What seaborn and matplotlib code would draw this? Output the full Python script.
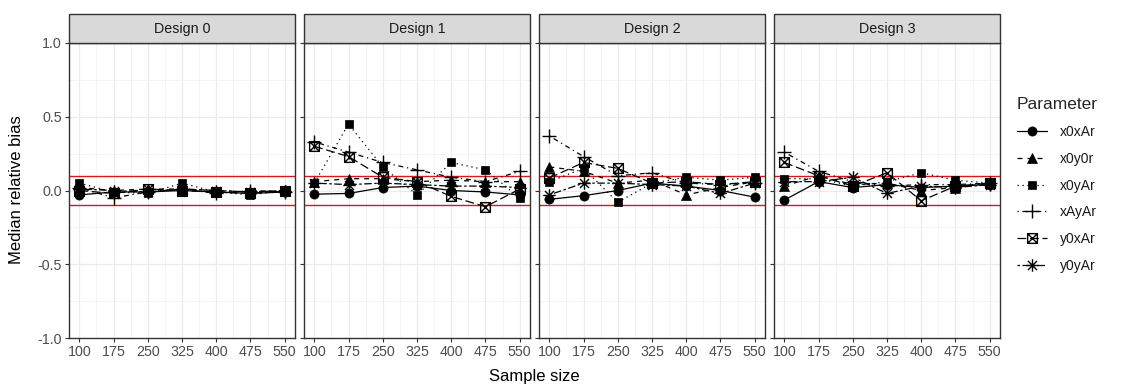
import matplotlib
matplotlib.use("Agg")
import matplotlib.pyplot as plt
from matplotlib.path import Path
from matplotlib.lines import Line2D
from matplotlib.patches import Rectangle
import numpy as np
import pandas as pd
import seaborn as sns

sample_sizes = [100, 175, 250, 325, 400, 475, 550]
parameters = ["x0xAr", "x0y0r", "x0yAr", "xAyAr", "y0xAr", "y0yAr"]
designs = ["Design 0", "Design 1", "Design 2", "Design 3"]

design0 = {
    "x0xAr": [-0.03, -0.01, -0.01, 0.00, -0.01, -0.02, -0.01],
    "x0y0r": [0.02, 0.00, 0.01, 0.01, 0.00, -0.01, 0.00],
    "x0yAr": [0.05, -0.01, -0.02, 0.05, -0.01, -0.03, 0.00],
    "xAyAr": [0.02, -0.05, -0.01, 0.01, -0.02, 0.00, -0.01],
    "y0xAr": [0.00, -0.02, 0.01, 0.00, -0.01, -0.02, 0.00],
    "y0yAr": [0.01, 0.00, -0.01, 0.01, 0.00, -0.01, 0.00],
}
design1 = {
    "x0xAr": [-0.025, -0.02, 0.02, 0.03, 0.00, -0.01, -0.03],
    "x0y0r": [0.06, 0.08, 0.08, 0.06, 0.07, 0.06, 0.06],
    "x0yAr": [0.05, 0.45, 0.16, -0.03, 0.19, 0.14, -0.05],
    "xAyAr": [0.33, 0.26, 0.19, 0.14, 0.09, 0.06, 0.13],
    "y0xAr": [0.30, 0.23, 0.09, 0.06, -0.04, -0.11, 0.01],
    "y0yAr": [0.05, 0.04, 0.05, 0.04, 0.03, 0.03, 0.02],
}
design2 = {
    "x0xAr": [-0.06, -0.035, 0.00, 0.05, 0.03, 0.00, -0.045],
    "x0y0r": [0.16, 0.13, 0.05, 0.07, -0.03, 0.02, 0.06],
    "x0yAr": [0.06, 0.15, -0.08, 0.05, 0.09, 0.07, 0.09],
    "xAyAr": [0.37, 0.23, 0.10, 0.12, 0.05, 0.04, 0.05],
    "y0xAr": [0.085, 0.19, 0.15, 0.05, 0.06, 0.04, 0.06],
    "y0yAr": [-0.03, 0.05, 0.05, 0.04, 0.03, -0.02, 0.05],
}
design3 = {
    "x0xAr": [-0.065, 0.06, 0.02, 0.04, 0.02, 0.03, 0.04],
    "x0y0r": [0.03, 0.10, 0.04, 0.05, 0.00, 0.02, 0.05],
    "x0yAr": [0.08, 0.08, 0.03, 0.06, 0.12, 0.07, 0.05],
    "xAyAr": [0.26, 0.13, 0.06, 0.03, 0.04, 0.04, 0.05],
    "y0xAr": [0.19, 0.10, 0.03, 0.12, -0.07, 0.03, 0.05],
    "y0yAr": [0.06, 0.06, 0.09, -0.02, 0.03, 0.02, 0.04],
}
design_values = [design0, design1, design2, design3]

rows = []
for dname, dvals in zip(designs, design_values):
    for p in parameters:
        for s, v in zip(sample_sizes, dvals[p]):
            rows.append({"Design": dname, "Parameter": p, "Sample size": s, "bias": v})
df = pd.DataFrame(rows)

sns.set_theme(style="white")
plt.rcParams["font.family"] = ["Liberation Sans", "DejaVu Sans"]
plt.rcParams["axes.unicode_minus"] = False

# custom markers
box_x = Path(
    [(-1, -1), (1, -1), (1, 1), (-1, 1), (-1, -1), (-1, -1), (1, 1), (-1, 1), (1, -1)],
    [Path.MOVETO, Path.LINETO, Path.LINETO, Path.LINETO, Path.LINETO,
     Path.MOVETO, Path.LINETO, Path.MOVETO, Path.LINETO],
)
a = 0.72
aster = Path(
    [(0, -1), (0, 1), (-1, 0), (1, 0), (-a, -a), (a, a), (-a, a), (a, -a)],
    [Path.MOVETO, Path.LINETO, Path.MOVETO, Path.LINETO,
     Path.MOVETO, Path.LINETO, Path.MOVETO, Path.LINETO],
)

styles = {
    "x0xAr": dict(marker="o", ms=6.6, ls="-", dashes=None, mfc="black"),
    "x0y0r": dict(marker="^", ms=7.0, ls="--", dashes=(4, 4), mfc="black"),
    "x0yAr": dict(marker="s", ms=6.2, ls=":", dashes=(1, 3), mfc="black"),
    "xAyAr": dict(marker="+", ms=10, ls="-.", dashes=(1, 3, 4, 3), mfc="black"),
    "y0xAr": dict(marker=box_x, ms=7.0, ls="--", dashes=(7, 3), mfc="none"),
    "y0yAr": dict(marker=aster, ms=9, ls="--", dashes=(2, 2, 6, 2), mfc="none"),
}

W, H = 1123, 385
fig, axes = plt.subplots(1, 4, figsize=(W / 100, H / 100), dpi=100, sharey=True)
fig.subplots_adjust(left=69 / W, right=1000 / W, top=1 - 43 / H, bottom=1 - 338 / H, wspace=0.04)

lw = 0.9
for ax, dname in zip(axes, designs):
    sub = df[df["Design"] == dname]
    ax.set_facecolor("white")
    ax.set_xlim(100 - 22.5, 550 + 22.5)
    ax.set_ylim(-1, 1)
    ax.set_xticks(sample_sizes)
    ax.set_xticks([137.5, 212.5, 287.5, 362.5, 437.5, 512.5], minor=True)
    ax.set_yticks([-1.0, -0.5, 0.0, 0.5, 1.0])
    ax.set_yticklabels(["-1.0", "-0.5", "0.0", "0.5", "1.0"])
    ax.set_yticks([-0.75, -0.25, 0.25, 0.75], minor=True)
    ax.grid(True, which="major", color="#EBEBEB", lw=0.9, zorder=0)
    ax.grid(True, which="minor", color="#F2F2F2", lw=0.6, zorder=0)
    ax.set_axisbelow(True)
    for sp in ax.spines.values():
        sp.set_color("#333333")
        sp.set_linewidth(1.0)
    ax.tick_params(axis="both", which="major", length=3, width=0.8, color="#333333",
                   labelcolor="#4D4D4D", labelsize=10.3, pad=2, left=True, bottom=True)
    ax.tick_params(axis="both", which="minor", length=0)
    ax.axhline(0.1, color="#D7191C", lw=1.0, zorder=1.5)
    ax.axhline(-0.1, color="#D7191C", lw=1.0, zorder=1.5)
    for p in parameters:
        st = styles[p]
        d = sub[sub["Parameter"] == p]
        kws = dict(color="black", lw=lw, marker=st["marker"], markersize=st["ms"],
                   markerfacecolor=st["mfc"], markeredgecolor="black",
                   markeredgewidth=1.0 if st["mfc"] == "none" or st["marker"] == "+" else 0.5)
        if st["dashes"] is not None:
            kws["dashes"] = st["dashes"]
        sns.lineplot(data=d, x="Sample size", y="bias", ax=ax, errorbar=None,
                     legend=False, zorder=3, **kws)
    ax.set_xlabel("")
    ax.set_ylabel("")
    # strip
    strip_h = 29 / 295
    ax.add_patch(Rectangle((0, 1), 1, strip_h, transform=ax.transAxes, clip_on=False,
                           facecolor="#D9D9D9", edgecolor="#333333", lw=1.0, zorder=5))
    ax.text(0.5, 1 + strip_h / 2, dname, transform=ax.transAxes, ha="center", va="center",
            fontsize=10.3, color="#1A1A1A", zorder=6)

fig.text((69 + 1000) / 2 / W, 1 - 376 / H, "Sample size", ha="center", va="center",
         fontsize=12, color="black")
fig.text(17 / W, 1 - 190 / H, "Median relative bias", ha="center", va="center",
         rotation=90, fontsize=12, color="black")

handles = []
for p in parameters:
    st = styles[p]
    h = Line2D([0], [0], color="black", lw=lw, marker=st["marker"], markersize=st["ms"],
               markerfacecolor=st["mfc"], markeredgecolor="black",
               markeredgewidth=1.0 if st["mfc"] == "none" or st["marker"] == "+" else 0.5)
    if st["dashes"] is not None:
        h.set_dashes(st["dashes"])
    handles.append(h)
leg = fig.legend(handles, parameters, title="Parameter", loc="center left",
                 bbox_to_anchor=(1004 / W, 1 - 185 / H), frameon=False, fontsize=10,
                 title_fontsize=12.5, handlelength=2.2, labelspacing=0.92, handletextpad=0.9)
leg._legend_box.align = "left"
for t in leg.get_texts():
    t.set_color("#1A1A1A")

fig.savefig("out.png", dpi=100, facecolor="white")
